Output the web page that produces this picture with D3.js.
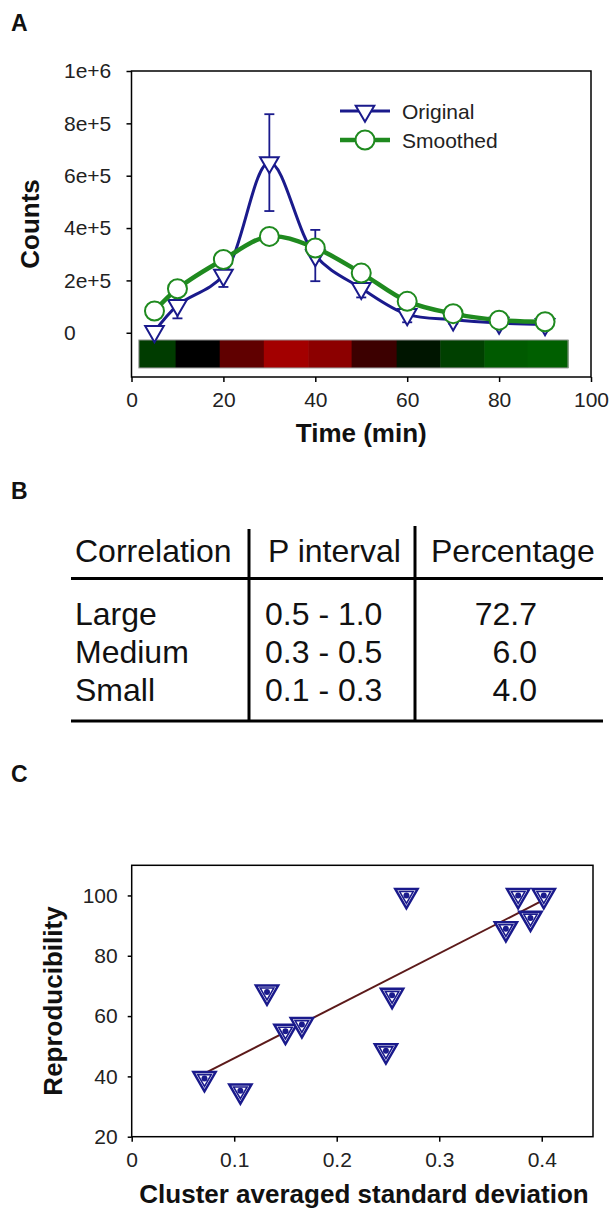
<!DOCTYPE html>
<html>
<head>
<meta charset="utf-8">
<script src="https://cdn.jsdelivr.net/npm/d3@7"></script>
<style>
body { margin: 0; background: #fff; }
svg { font-family: "Liberation Sans", Arial, sans-serif; }
.axis text { font-size: 21px; fill: #222; }
.axis path, .axis line { stroke: #000; stroke-width: 1.5; }
.title { font-weight: bold; font-size: 26px; fill: #111; }
.panel { font-weight: bold; font-size: 23px; fill: #111; }
</style>
</head>
<body>
<script>
// panel A
var times = [5, 10, 20, 30, 40, 50, 60, 70, 80, 90];
var original = [5000, 105000, 220000, 650000, 295000, 170000, 70000, 50000, 37000, 32000];
var originalErr = [0, 50000, 45000, 185000, 98000, 35000, 30000, 15000, 10000, 10000];
var smoothed = [83000, 168000, 280000, 368000, 324000, 228000, 120000, 73000, 48000, 42000];
var heatEdges = [1.6, 9.6, 19.2, 28.8, 38.5, 47.9, 57.7, 67.2, 76.8, 86.2, 95.0];
var heatColors = ["#003c00", "#000000", "#600000", "#a30000", "#8c0000",
  "#3c0000", "#001500", "#004000", "#005a00", "#005f00"];
var countTicks = [0, 200000, 400000, 600000, 800000, 1000000];
var countLabels = ["0", "2e+5", "4e+5", "6e+5", "8e+5", "1e+6"];
var timeTicks = [0, 20, 40, 60, 80, 100];

// panel B
var tableHeader = ["Correlation", "P interval", "Percentage"];
var corrLevels = ["Large", "Medium", "Small"];
var pIntervals = ["0.5 - 1.0", "0.3 - 0.5", "0.1 - 0.3"];
var percentages = ["72.7", "6.0", "4.0"];

// panel C
var sdValues = [0.071, 0.106, 0.132, 0.150, 0.166, 0.248, 0.254, 0.268, 0.365, 0.377, 0.389, 0.402];
var reproValues = [39.3, 35.2, 68.0, 55.0, 57.2, 48.5, 66.9, 100, 89.0, 100, 92.5, 100];
var fitX = [0.071, 0.402];
var fitY = [41, 98.5];
var sdTicks = [0, 0.1, 0.2, 0.3, 0.4];
var reproTicks = [20, 40, 60, 80, 100];

var blue = "#1a1a8c", green = "#1f8a1f";

var svg = d3.select("body").append("svg")
  .attr("width", 610)
  .attr("height", 1210);

// ---------- A ----------
svg.append("text").attr("class", "panel").attr("x", 11).attr("y", 31).text("A");

var xA = d3.scaleLinear().domain([0, 100]).range([131.5, 591]);
var yA = d3.scaleLinear().domain([-169000, 1000000]).range([377, 71]);

var gA = svg.append("g");

gA.append("g")
  .attr("class", "axis")
  .attr("transform", "translate(0,377)")
  .call(d3.axisBottom(xA).tickValues(timeTicks).tickFormat(d3.format("d")).tickSize(5).tickPadding(10))
  .call(function(g) { g.select(".domain").remove(); });

var yAxisA = gA.append("g")
  .attr("class", "axis")
  .attr("transform", "translate(131.5,0)")
  .call(d3.axisLeft(yA).tickValues(countTicks).tickFormat(function(d, i) { return countLabels[i]; }).tickSize(5))
  .call(function(g) { g.select(".domain").remove(); });
// labels are left aligned in the original
yAxisA.selectAll("text").attr("text-anchor", "start").attr("x", 64 - 131.5);

gA.append("rect")
  .attr("x", xA(0)).attr("y", yA(1000000))
  .attr("width", xA(100) - xA(0)).attr("height", yA(-169000) - yA(1000000))
  .attr("fill", "none").attr("stroke", "#000").attr("stroke-width", 1.5);

// heat strip
var heat = gA.append("g");
heat.selectAll("rect")
  .data(heatColors)
  .enter().append("rect")
  .attr("x", function(d, i) { return xA(heatEdges[i]); })
  .attr("width", function(d, i) { return xA(heatEdges[i + 1]) - xA(heatEdges[i]) + 0.5; })
  .attr("y", yA(-27500))
  .attr("height", yA(-134500) - yA(-27500))
  .attr("fill", function(d) { return d; });
heat.append("rect")
  .attr("x", xA(heatEdges[0])).attr("y", yA(-27500))
  .attr("width", xA(heatEdges[heatEdges.length - 1]) - xA(heatEdges[0]))
  .attr("height", yA(-134500) - yA(-27500))
  .attr("fill", "none").attr("stroke", "#9a9a9a").attr("stroke-width", 1);

var line = d3.line().curve(d3.curveCatmullRom.alpha(0.5));

// error bars of the original series
var err = gA.selectAll(".err")
  .data(times)
  .enter().append("g")
  .attr("class", "err")
  .attr("stroke", blue).attr("stroke-width", 1.8);
err.append("line")
  .attr("x1", function(d) { return xA(d); }).attr("x2", function(d) { return xA(d); })
  .attr("y1", function(d, i) { return yA(original[i] - originalErr[i]); })
  .attr("y2", function(d, i) { return yA(original[i] + originalErr[i]); });
err.append("line")
  .attr("x1", function(d) { return xA(d) - 5; }).attr("x2", function(d) { return xA(d) + 5; })
  .attr("y1", function(d, i) { return yA(original[i] - originalErr[i]); })
  .attr("y2", function(d, i) { return yA(original[i] - originalErr[i]); });
err.append("line")
  .attr("x1", function(d) { return xA(d) - 5; }).attr("x2", function(d) { return xA(d) + 5; })
  .attr("y1", function(d, i) { return yA(original[i] + originalErr[i]); })
  .attr("y2", function(d, i) { return yA(original[i] + originalErr[i]); });

gA.append("path")
  .attr("d", line(times.map(function(t, i) { return [xA(t), yA(original[i])]; })))
  .attr("fill", "none").attr("stroke", blue).attr("stroke-width", 3);

var triDown = d3.symbol().type(d3.symbolTriangle).size(150);
gA.selectAll(".tri")
  .data(times)
  .enter().append("path")
  .attr("class", "tri")
  .attr("d", triDown)
  .attr("transform", function(d, i) { return "translate(" + xA(d) + "," + yA(original[i]) + ") rotate(180)"; })
  .attr("fill", "#fff").attr("stroke", blue).attr("stroke-width", 2);

gA.append("path")
  .attr("d", line(times.map(function(t, i) { return [xA(t), yA(smoothed[i])]; })))
  .attr("fill", "none").attr("stroke", green).attr("stroke-width", 4.5);

gA.selectAll(".dot")
  .data(times)
  .enter().append("circle")
  .attr("class", "dot")
  .attr("cx", function(d) { return xA(d); })
  .attr("cy", function(d, i) { return yA(smoothed[i]); })
  .attr("r", 9.5)
  .attr("fill", "#fff").attr("stroke", green).attr("stroke-width", 2);

// legend
var leg = gA.append("g");
leg.append("line").attr("x1", 340).attr("x2", 390).attr("y1", 111).attr("y2", 111)
  .attr("stroke", blue).attr("stroke-width", 3);
leg.append("path").attr("d", triDown).attr("transform", "translate(365,111) rotate(180)")
  .attr("fill", "#fff").attr("stroke", blue).attr("stroke-width", 2);
leg.append("text").attr("x", 402).attr("y", 118.5).attr("font-size", 21).attr("fill", "#222").text("Original");
leg.append("line").attr("x1", 340).attr("x2", 390).attr("y1", 140).attr("y2", 140)
  .attr("stroke", green).attr("stroke-width", 4.5);
leg.append("circle").attr("cx", 365).attr("cy", 140).attr("r", 9.5)
  .attr("fill", "#fff").attr("stroke", green).attr("stroke-width", 2);
leg.append("text").attr("x", 402).attr("y", 147.5).attr("font-size", 21).attr("fill", "#222").text("Smoothed");

svg.append("text").attr("class", "title")
  .attr("x", (xA(0) + xA(100)) / 2).attr("y", 442)
  .attr("text-anchor", "middle").text("Time (min)");
svg.append("text").attr("class", "title")
  .attr("transform", "translate(39," + (yA(-169000) + yA(1000000)) / 2 + ") rotate(-90)")
  .attr("text-anchor", "middle").text("Counts");

// ---------- B ----------
svg.append("text").attr("class", "panel").attr("x", 11).attr("y", 499).text("B");

var textX = [75, 265, 537];
var anchors = ["start", "start", "end"];
var rowY = d3.scaleLinear().domain([0, 1]).range([625, 663]);

var gB = svg.append("g").attr("font-size", 32).attr("fill", "#111");
gB.selectAll(".hdr")
  .data(tableHeader)
  .enter().append("text")
  .attr("class", "hdr")
  .attr("x", function(d, i) { return [75, 268, 431][i]; })
  .attr("y", 562)
  .text(function(d) { return d; });

[corrLevels, pIntervals, percentages].forEach(function(col, c) {
  gB.selectAll(".col" + c)
    .data(col)
    .enter().append("text")
    .attr("class", "col" + c)
    .attr("x", textX[c])
    .attr("y", function(d, i) { return rowY(i); })
    .attr("text-anchor", anchors[c])
    .text(function(d) { return d; });
});

gB.append("line").attr("x1", 71).attr("x2", 603).attr("y1", 578.5).attr("y2", 578.5)
  .attr("stroke", "#000").attr("stroke-width", 3);
gB.append("line").attr("x1", 71).attr("x2", 603).attr("y1", 721).attr("y2", 721)
  .attr("stroke", "#000").attr("stroke-width", 3);
gB.append("line").attr("x1", 249).attr("x2", 249).attr("y1", 529).attr("y2", 721)
  .attr("stroke", "#000").attr("stroke-width", 3);
gB.append("line").attr("x1", 415).attr("x2", 415).attr("y1", 526).attr("y2", 721)
  .attr("stroke", "#000").attr("stroke-width", 3);

// ---------- C ----------
svg.append("text").attr("class", "panel").attr("x", 11).attr("y", 782).text("C");

var xC = d3.scaleLinear().domain([0, 0.45]).range([131.7, 593]);
var yC = d3.scaleLinear().domain([20, 110]).range([1136.7, 865.3]);

var gC = svg.append("g");
gC.append("g")
  .attr("class", "axis")
  .attr("transform", "translate(0,1136.7)")
  .call(d3.axisBottom(xC).tickValues(sdTicks).tickFormat(d3.format("")).tickSize(5).tickPadding(10))
  .call(function(g) { g.select(".domain").remove(); });
gC.append("g")
  .attr("class", "axis")
  .attr("transform", "translate(131.7,0)")
  .call(d3.axisLeft(yC).tickValues(reproTicks).tickSize(4).tickPadding(10))
  .call(function(g) { g.select(".domain").remove(); });

gC.append("rect")
  .attr("x", xC(0)).attr("y", yC(110))
  .attr("width", xC(0.45) - xC(0)).attr("height", yC(20) - yC(110))
  .attr("fill", "none").attr("stroke", "#000").attr("stroke-width", 1.5);

gC.append("path")
  .attr("d", d3.line()(fitX.map(function(x, i) { return [xC(x), yC(fitY[i])]; })))
  .attr("stroke", "#5c1a1a").attr("stroke-width", 2).attr("fill", "none");

var pts = gC.selectAll(".pt")
  .data(sdValues)
  .enter().append("g")
  .attr("class", "pt")
  .attr("transform", function(d, i) { return "translate(" + xC(d) + "," + yC(reproValues[i]) + ")"; });
pts.append("path")
  .attr("d", d3.symbol().type(d3.symbolTriangle).size(215))
  .attr("transform", "rotate(180)")
  .attr("fill", "#fff").attr("stroke", blue).attr("stroke-width", 2.5);
pts.append("path")
  .attr("d", d3.symbol().type(d3.symbolTriangle).size(80))
  .attr("transform", "rotate(180)")
  .attr("fill", "#fff").attr("stroke", blue).attr("stroke-width", 1.6);
pts.append("circle").attr("r", 3).attr("fill", blue);

svg.append("text").attr("class", "title")
  .attr("x", 364).attr("y", 1203)
  .attr("text-anchor", "middle").text("Cluster averaged standard deviation");
svg.append("text").attr("class", "title")
  .attr("transform", "translate(62," + (yC(20) + yC(110)) / 2 + ") rotate(-90)")
  .attr("text-anchor", "middle").text("Reproducibility");
</script>
</body>
</html>
